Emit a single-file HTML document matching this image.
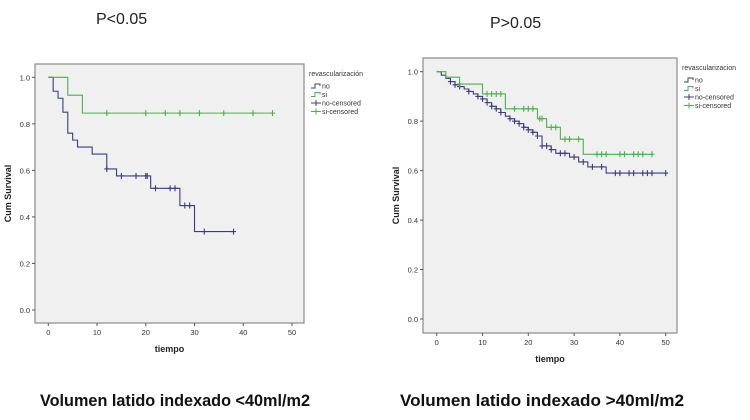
<!DOCTYPE html>
<html><head><meta charset="utf-8"><style>
html,body{margin:0;padding:0;background:#fff;width:750px;height:420px;overflow:hidden}
svg{display:block;font-family:"Liberation Sans",sans-serif}
</style></head><body>
<svg id="s" width="750" height="420" viewBox="0 0 750 420">
<text x="96" y="24" font-size="16" fill="#222">P&lt;0.05</text>
<text x="490" y="28" font-size="16" fill="#222">P&gt;0.05</text>
<text x="40" y="406" font-size="17" font-weight="bold" fill="#111" textLength="270" lengthAdjust="spacingAndGlyphs">Volumen latido indexado &lt;40ml/m2</text>
<text x="400" y="406" font-size="17" font-weight="bold" fill="#111" textLength="284" lengthAdjust="spacingAndGlyphs">Volumen latido indexado &gt;40ml/m2</text>
</svg>
<script>
// Left chart data
const L_noT=[0,1,2,3,4,5,6,9,12,14,21,27,30];
const L_noS=[1,0.94,0.91,0.85,0.76,0.73,0.70,0.67,0.606,0.576,0.523,0.449,0.337];
const L_noEnd=38;
const L_noCensT=[12,15,18,20,20.3,22,25,26,28,29,32,38];
const L_siT=[0,4,7];
const L_siS=[1,0.923,0.846];
const L_siEnd=46;
const L_siCensT=[12,20,24,27,31,36,42,46];
// Right chart data
const R_noT=[0,1,2,3,4,5,6,7,8,9,10,11,12,13,14,15,16,17,18,19,20,21,22,23,25,26,29,31,33,37];
const R_noS=[1,0.986,0.973,0.96,0.947,0.94,0.93,0.92,0.91,0.90,0.89,0.875,0.86,0.85,0.835,0.82,0.81,0.80,0.79,0.775,0.765,0.755,0.74,0.70,0.685,0.67,0.655,0.635,0.615,0.59];
const R_noEnd=50;
const R_noCensT=[3,4,5,7,9,10,11,12,13,14,16,17,18,19,20,21,22,23,24,25,27,28,30,32,34,36,39,40,42,43,45,46,47,50];
const R_siT=[0,2,5,10,15,22,24,27,32];
const R_siS=[1,0.978,0.95,0.91,0.85,0.81,0.775,0.727,0.666];
const R_siEnd=47;
const R_siCensT=[5,11,12,13,14,17,19,20,21,22.5,23,25,26,28,29,31,35,36,37,40,41,43,44,45,47];
const yTicks=[0,0.2,0.4,0.6,0.8,1.0];
const xTicks=[0,10,20,30,40,50];

const NS="http://www.w3.org/2000/svg";
const svg=document.getElementById('s');
function mk(tag,a,parent){const e=document.createElementNS(NS,tag);for(const k in a)e.setAttribute(k,a[k]);(parent||svg).appendChild(e);return e;}
function survAt(T,S,t){let v=S[0];for(let i=0;i<T.length;i++)if(T[i]<=t)v=S[i];return v;}

function chart(cfg){
  const g=mk('g',{});
  
  
  const X=t=>cfg.x0+(cfg.x50-cfg.x0)*t/50;
  const Y=s=>cfg.y0+(cfg.y1-cfg.y0)*s;
  const bg=mk('rect',{x:cfg.bx1,y:cfg.by1,width:cfg.bx2-cfg.bx1,height:cfg.by2-cfg.by1,fill:'#f0f0f0',stroke:'#8a8a8a','stroke-width':1.2},g);
  
  
  yTicks.forEach(v=>{
    mk('line',{x1:cfg.bx1-3,x2:cfg.bx1,y1:Y(v),y2:Y(v),stroke:'#555'},g);
    const t=mk('text',{x:cfg.bx1-5,y:Y(v)+3,'font-size':7.5,'text-anchor':'end',fill:'#333'},g);
    t.textContent=v.toFixed(1);
    
    
  });
  xTicks.forEach(v=>{
    mk('line',{x1:X(v),x2:X(v),y1:cfg.by2,y2:cfg.by2+3,stroke:'#555'},g);
    const t=mk('text',{x:X(v),y:cfg.by2+12,'font-size':7.5,'text-anchor':'middle',fill:'#333'},g);
    t.textContent=v;
    
    
  });
  const xt=mk('text',{x:(cfg.bx1+cfg.bx2)/2,y:cfg.by2+29,'font-size':9,'font-weight':'bold','text-anchor':'middle',fill:'#222'},g);
  xt.textContent='tiempo';
  
  
  const cy=(cfg.by1+cfg.by2)/2, cx=cfg.bx1-24;
  const yt=mk('text',{x:cx,y:cy,'font-size':9,'font-weight':'bold','text-anchor':'middle',fill:'#222',transform:`rotate(-90 ${cx} ${cy})`},g);
  yt.textContent='Cum Survival';
  
  
  function series(T,S,end,cens,col,nm){
    let d=`M${X(T[0])},${Y(S[0])}`;
    for(let i=1;i<T.length;i++){d+=`H${X(T[i])}V${Y(S[i])}`;}
    d+=`H${X(end)}`;
    const p=mk('path',{d:d,fill:'none',stroke:col,'stroke-width':1.1},g);
    
    
    cens.forEach(t=>{
      const s=survAt(T,S,t);
      const c=mk('path',{d:`M${X(t)},${Y(s)-3}v6M${X(t)-2.5},${Y(s)}h5`,stroke:col,'stroke-width':1.1},g);
      
      
    });
  }
  series(cfg.noT,cfg.noS,cfg.noEnd,cfg.noC,'#3c3c7e','no');
  series(cfg.siT,cfg.siS,cfg.siEnd,cfg.siC,'#4caf50','si');
  const lx=cfg.lx, ly=cfg.ly;
  const lt=mk('text',{x:lx,y:ly,'font-size':7,fill:'#333'},g);
  lt.textContent=cfg.ltitle;
  
  
  const items=[['no','#3c3c7e',0],['si','#4caf50',0],['no-censored','#3c3c7e',1],['si-censored','#4caf50',1]];
  items.forEach((it,i)=>{
    const yy=ly+10+i*8.5;
    const e=mk('g',{},g);
    
    
    if(it[2]) mk('path',{d:`M${lx+2},${yy}h10M${lx+7},${yy-3}v6`,stroke:it[1],'stroke-width':1},e);
    else mk('path',{d:`M${lx+2},${yy+2}h4v-4h5v2`,stroke:it[1],fill:'none','stroke-width':1},e);
    const t=mk('text',{x:lx+13,y:yy+2.5,'font-size':7,fill:'#333'},e);
    t.textContent=it[0];
  });
}
chart({name:'left-km-chart',bx1:35,bx2:304,by1:64,by2:323,x0:48.3,x50:292,y0:310,y1:77.3,
  noT:L_noT,noS:L_noS,noEnd:L_noEnd,noC:L_noCensT,siT:L_siT,siS:L_siS,siEnd:L_siEnd,siC:L_siCensT,
  lx:309,ly:76,ltitle:'revascularización'});
chart({name:'right-km-chart',bx1:423,bx2:677,by1:58,by2:333,x0:436.7,x50:665.7,y0:319,y1:71.7,
  noT:R_noT,noS:R_noS,noEnd:R_noEnd,noC:R_noCensT,siT:R_siT,siS:R_siS,siEnd:R_siEnd,siC:R_siCensT,
  lx:682,ly:70,ltitle:'revascularizacion'});
</script>
</body></html>
